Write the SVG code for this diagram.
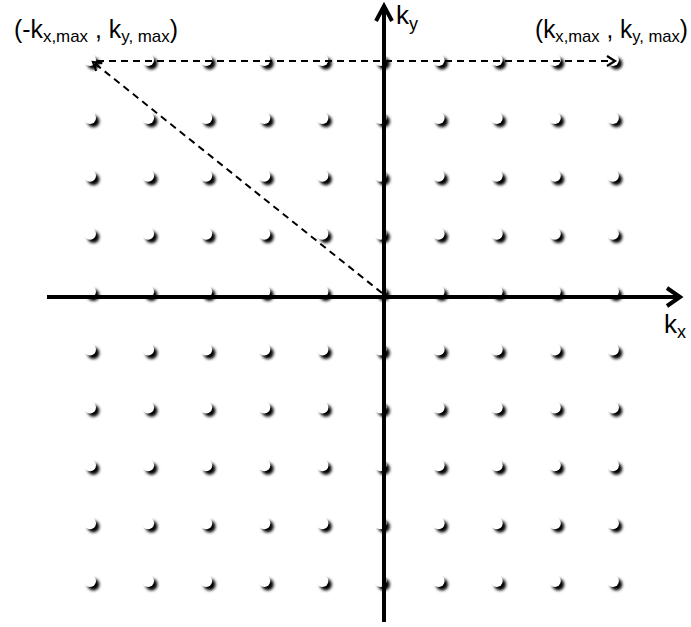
<svg xmlns="http://www.w3.org/2000/svg" width="691" height="627" viewBox="0 0 691 627">
<defs>
<filter id="blur" x="-1" y="-1" width="3" height="3"><feGaussianBlur stdDeviation="1.7"/></filter>
<g id="dot"><circle cx="3.4" cy="3.4" r="6" fill="#000" filter="url(#blur)"/><circle cx="0" cy="0" r="6" fill="#fff"/></g>
<marker id="oa" viewBox="0 0 14 14" refX="11" refY="7" markerWidth="14" markerHeight="14" markerUnits="userSpaceOnUse" orient="auto"><path d="M3,2 L11,7 L3,12" fill="none" stroke="#000" stroke-width="2.2"/></marker>
</defs>
<style>
.lbl{font-family:"Liberation Sans",Arial,sans-serif;fill:#000}
.ax{stroke:#000;stroke-width:4;fill:none}
.dash{stroke:#000;stroke-width:2;stroke-dasharray:7,5;fill:none}
</style>
<rect width="691" height="627" fill="#fff"/>
<g id="dots">
<use href="#dot" x="90" y="60"/><use href="#dot" x="148.1" y="60"/><use href="#dot" x="206.2" y="60"/><use href="#dot" x="264.3" y="60"/><use href="#dot" x="322.4" y="60"/><use href="#dot" x="380.5" y="60"/><use href="#dot" x="438.6" y="60"/><use href="#dot" x="496.7" y="60"/><use href="#dot" x="554.8" y="60"/><use href="#dot" x="612.9" y="60"/>
<use href="#dot" x="90" y="117.9"/><use href="#dot" x="148.1" y="117.9"/><use href="#dot" x="206.2" y="117.9"/><use href="#dot" x="264.3" y="117.9"/><use href="#dot" x="322.4" y="117.9"/><use href="#dot" x="380.5" y="117.9"/><use href="#dot" x="438.6" y="117.9"/><use href="#dot" x="496.7" y="117.9"/><use href="#dot" x="554.8" y="117.9"/><use href="#dot" x="612.9" y="117.9"/>
<use href="#dot" x="90" y="175.8"/><use href="#dot" x="148.1" y="175.8"/><use href="#dot" x="206.2" y="175.8"/><use href="#dot" x="264.3" y="175.8"/><use href="#dot" x="322.4" y="175.8"/><use href="#dot" x="380.5" y="175.8"/><use href="#dot" x="438.6" y="175.8"/><use href="#dot" x="496.7" y="175.8"/><use href="#dot" x="554.8" y="175.8"/><use href="#dot" x="612.9" y="175.8"/>
<use href="#dot" x="90" y="233.7"/><use href="#dot" x="148.1" y="233.7"/><use href="#dot" x="206.2" y="233.7"/><use href="#dot" x="264.3" y="233.7"/><use href="#dot" x="322.4" y="233.7"/><use href="#dot" x="380.5" y="233.7"/><use href="#dot" x="438.6" y="233.7"/><use href="#dot" x="496.7" y="233.7"/><use href="#dot" x="554.8" y="233.7"/><use href="#dot" x="612.9" y="233.7"/>
<use href="#dot" x="90" y="291.6"/><use href="#dot" x="148.1" y="291.6"/><use href="#dot" x="206.2" y="291.6"/><use href="#dot" x="264.3" y="291.6"/><use href="#dot" x="322.4" y="291.6"/><use href="#dot" x="380.5" y="291.6"/><use href="#dot" x="438.6" y="291.6"/><use href="#dot" x="496.7" y="291.6"/><use href="#dot" x="554.8" y="291.6"/><use href="#dot" x="612.9" y="291.6"/>
<use href="#dot" x="90" y="349.5"/><use href="#dot" x="148.1" y="349.5"/><use href="#dot" x="206.2" y="349.5"/><use href="#dot" x="264.3" y="349.5"/><use href="#dot" x="322.4" y="349.5"/><use href="#dot" x="380.5" y="349.5"/><use href="#dot" x="438.6" y="349.5"/><use href="#dot" x="496.7" y="349.5"/><use href="#dot" x="554.8" y="349.5"/><use href="#dot" x="612.9" y="349.5"/>
<use href="#dot" x="90" y="407.4"/><use href="#dot" x="148.1" y="407.4"/><use href="#dot" x="206.2" y="407.4"/><use href="#dot" x="264.3" y="407.4"/><use href="#dot" x="322.4" y="407.4"/><use href="#dot" x="380.5" y="407.4"/><use href="#dot" x="438.6" y="407.4"/><use href="#dot" x="496.7" y="407.4"/><use href="#dot" x="554.8" y="407.4"/><use href="#dot" x="612.9" y="407.4"/>
<use href="#dot" x="90" y="465.3"/><use href="#dot" x="148.1" y="465.3"/><use href="#dot" x="206.2" y="465.3"/><use href="#dot" x="264.3" y="465.3"/><use href="#dot" x="322.4" y="465.3"/><use href="#dot" x="380.5" y="465.3"/><use href="#dot" x="438.6" y="465.3"/><use href="#dot" x="496.7" y="465.3"/><use href="#dot" x="554.8" y="465.3"/><use href="#dot" x="612.9" y="465.3"/>
<use href="#dot" x="90" y="523.2"/><use href="#dot" x="148.1" y="523.2"/><use href="#dot" x="206.2" y="523.2"/><use href="#dot" x="264.3" y="523.2"/><use href="#dot" x="322.4" y="523.2"/><use href="#dot" x="380.5" y="523.2"/><use href="#dot" x="438.6" y="523.2"/><use href="#dot" x="496.7" y="523.2"/><use href="#dot" x="554.8" y="523.2"/><use href="#dot" x="612.9" y="523.2"/>
<use href="#dot" x="90" y="581.1"/><use href="#dot" x="148.1" y="581.1"/><use href="#dot" x="206.2" y="581.1"/><use href="#dot" x="264.3" y="581.1"/><use href="#dot" x="322.4" y="581.1"/><use href="#dot" x="380.5" y="581.1"/><use href="#dot" x="438.6" y="581.1"/><use href="#dot" x="496.7" y="581.1"/><use href="#dot" x="554.8" y="581.1"/><use href="#dot" x="612.9" y="581.1"/>
</g>
<g id="connectors">
<line id="axis-x" class="ax" x1="47" y1="297" x2="679" y2="297"/>
<path class="ax" d="M667,288 L680,297 L667,306" stroke-linejoin="miter"/>
<line id="axis-y" class="ax" x1="384" y1="622" x2="384" y2="7"/>
<path class="ax" d="M376,21 L384,6 L392,21" stroke-linejoin="miter"/>
<line class="dash" x1="97" y1="61" x2="615" y2="61" marker-end="url(#oa)"/>
<line class="dash" x1="382" y1="293" x2="93" y2="62" marker-end="url(#oa)"/>
</g>
<g id="labels">
<text id="lbl-left" class="lbl" x="14" y="38" font-size="25" textLength="164" lengthAdjust="spacingAndGlyphs">(-k<tspan font-size="17" dy="4">x,max</tspan><tspan dy="-4"> , k</tspan><tspan font-size="17" dy="4">y, max</tspan><tspan dy="-4">)</tspan></text>
<text id="lbl-right" class="lbl" x="535" y="38" font-size="25" textLength="153" lengthAdjust="spacingAndGlyphs">(k<tspan font-size="17" dy="4">x,max</tspan><tspan dy="-4"> , k</tspan><tspan font-size="17" dy="4">y, max</tspan><tspan dy="-4">)</tspan></text>
<text id="lbl-ky" class="lbl" x="396" y="24" font-size="26">k<tspan font-size="18" dy="6">y</tspan></text>
<text id="lbl-kx" class="lbl" x="664" y="333" font-size="26">k<tspan font-size="18" dy="5">x</tspan></text>
</g>
</svg>
